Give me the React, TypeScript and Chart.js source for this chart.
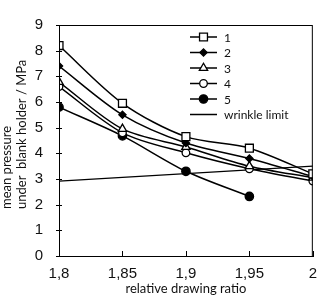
import React, { useEffect, useRef } from "react";
import { Chart, registerables } from "chart.js";
import { drawPoint } from "chart.js/helpers";

Chart.register(...registerables);

const xValues = [1.8, 1.85, 1.9, 1.95, 2.0];
const series1 = [8.2, 5.95, 4.65, 4.2, 3.2];
const series2 = [7.4, 5.5, 4.4, 3.8, 3.1];
const series3 = [6.78, 4.95, 4.25, 3.5, 3.05];
const series4 = [6.6, 4.8, 4.02, 3.4, 2.92];
const series5 = [5.8, 4.68, 3.3, 2.32];
const wrinkleX = [1.8, 2.0];
const wrinkleY = [2.92, 3.5];
const seriesNames = ["1", "2", "3", "4", "5", "wrinkle limit"];
const yTitleLines = ["mean pressure", "under  blank holder / MPa"];
const xTitle = "relative drawing ratio";

const TICK_FONT = "'Liberation Sans', Arial, sans-serif";
const TITLE_FONT = "Lato, 'Open Sans', sans-serif";

const toPts = (xs: number[], ys: number[]) => ys.map((y, i) => ({ x: xs[i], y }));

type Marker = { style: string; radius: number; fill: string };
const markers: (Marker | null)[] = [
  { style: "rect", radius: 5.6, fill: "#ffffff" },
  { style: "rectRot", radius: 3.6, fill: "#000000" },
  { style: "triangle", radius: 4.8, fill: "#ffffff" },
  { style: "circle", radius: 3.8, fill: "#ffffff" },
  { style: "circle", radius: 4.2, fill: "#000000" },
  null,
];

const fmt = (v: number) => String(Math.round(v * 100) / 100).replace(".", ",");

const framePlugin = {
  id: "frame",
  afterDraw(chart: any) {
    const { ctx, chartArea } = chart;
    const { left, right, top, bottom } = chartArea;
    ctx.save();
    ctx.strokeStyle = "#000";
    ctx.lineWidth = 1;
    ctx.strokeRect(left + 0.5, top + 0.5, right - left - 1, bottom - top);
    const ys = chart.scales.y;
    const xs = chart.scales.x;
    ctx.beginPath();
    ys.ticks.forEach((t: any) => {
      const py = Math.round(ys.getPixelForValue(t.value)) + 0.5;
      ctx.moveTo(left - 3, py);
      ctx.lineTo(left + 3, py);
    });
    xs.ticks.forEach((t: any) => {
      const px = Math.round(xs.getPixelForValue(t.value)) + 0.5;
      ctx.moveTo(px, bottom - 5);
      ctx.lineTo(px, bottom + 1);
    });
    ctx.stroke();

    ctx.fillStyle = "#111";
    ctx.font = `13px ${TITLE_FONT}`;
    ctx.textAlign = "center";
    ctx.textBaseline = "middle";
    ctx.fillText(xTitle, (left + right) / 2, 289);

    ctx.textAlign = "left";
    ctx.textBaseline = "alphabetic";
    yTitleLines.forEach((line, i) => {
      ctx.save();
      ctx.translate(11 + i * 15, 209);
      ctx.rotate(-Math.PI / 2);
      ctx.fillText(line, 0, 0);
      ctx.restore();
    });

    const lx = left + 131;
    const tx = left + 165;
    const y0 = top + 12;
    const dy = 15.5;
    ctx.font = `12px ${TITLE_FONT}`;
    ctx.textBaseline = "middle";
    seriesNames.forEach((name, i) => {
      const yy = y0 + i * dy;
      ctx.beginPath();
      ctx.lineWidth = 1.5;
      ctx.strokeStyle = "#000";
      ctx.moveTo(lx, yy);
      ctx.lineTo(lx + 27, yy);
      ctx.stroke();
      const m = markers[i];
      if (m) {
        ctx.fillStyle = m.fill;
        ctx.lineWidth = 1.3;
        drawPoint(ctx, { pointStyle: m.style as any, radius: m.radius, rotation: 0, borderWidth: 1.3 }, lx + 13.5, yy);
      }
      ctx.fillStyle = "#111";
      ctx.fillText(name, tx, yy + 1);
    });
    ctx.restore();
  },
};

export default function App() {
  const ref = useRef<HTMLCanvasElement>(null);
  useEffect(() => {
    document.body.style.margin = "0";
    const seriesList = [series1, series2, series3, series4, series5];
    const datasets: any[] = seriesList.map((s, i) => {
      const m = markers[i]!;
      return {
        label: seriesNames[i],
        data: toPts(xValues, s),
        borderColor: "#000",
        borderWidth: 1.5,
        tension: 0.3,
        pointStyle: m.style,
        pointRadius: m.radius,
        pointBackgroundColor: m.fill,
        pointBorderColor: "#000",
        pointBorderWidth: 1.3,
        fill: false,
      };
    });
    datasets.push({
      label: seriesNames[5],
      data: toPts(wrinkleX, wrinkleY),
      borderColor: "#000",
      borderWidth: 1.3,
      tension: 0,
      pointRadius: 0,
      fill: false,
    });
    const chart = new Chart(ref.current!, {
      type: "line",
      data: { datasets },
      options: {
        animation: false,
        responsive: false,
        devicePixelRatio: 1,
        layout: { padding: { top: 6, right: 6, left: 0, bottom: 0 } },
        plugins: { legend: { display: false }, tooltip: { enabled: false } },
        scales: {
          x: {
            type: "linear",
            min: 1.8,
            max: 2.0,
            grid: { display: false, drawTicks: false },
            border: { display: true, color: "#000", width: 1 },
            ticks: {
              stepSize: 0.05,
              padding: 9,
              color: "#111",
              font: { family: TICK_FONT, size: 15 },
              maxRotation: 0,
              callback: (v: any) => fmt(Number(v)),
            },
            afterFit: (s: any) => {
              s.height = 42;
            },
          },
          y: {
            min: 0,
            max: 9,
            grid: { display: false, drawTicks: false },
            border: { display: true, color: "#000", width: 1 },
            ticks: {
              stepSize: 1,
              padding: 16,
              color: "#111",
              font: { family: TICK_FONT, size: 15 },
            },
            afterFit: (s: any) => {
              s.width = 59;
            },
          },
        },
      },
      plugins: [framePlugin],
    });
    return () => chart.destroy();
  }, []);
  return (
    <div style={{ width: 326, height: 298 }}>
      <canvas ref={ref} width={326} height={298} style={{ display: "block" }} />
    </div>
  );
}
